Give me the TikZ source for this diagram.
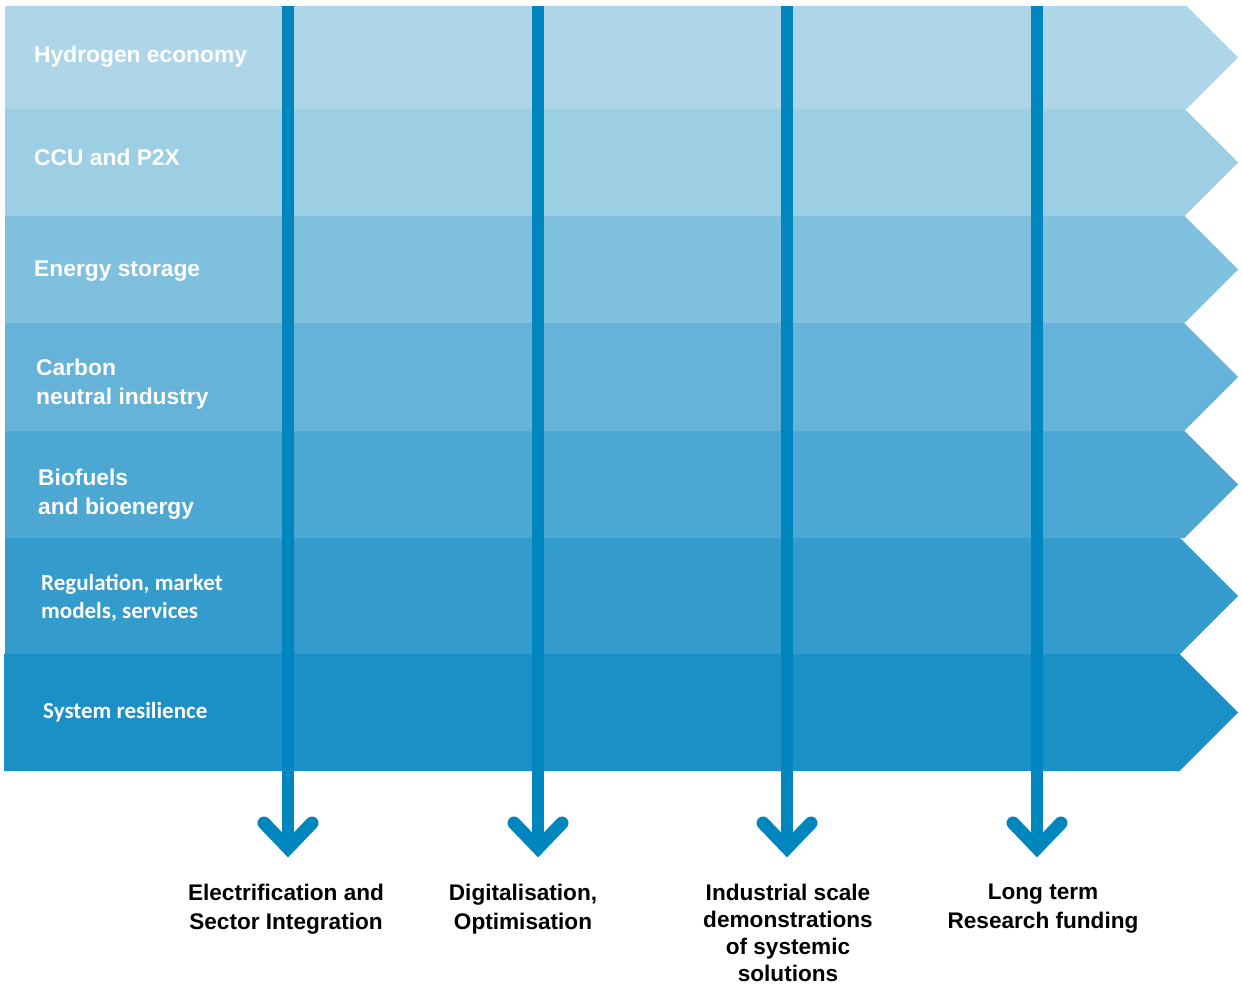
\documentclass[tikz,border=0pt]{standalone}
\usepackage{fontspec}
\setmainfont{Liberation Sans}
\newfontfamily\carl{Carlito}
\definecolor{bA}{HTML}{AED6E8}
\definecolor{bB}{HTML}{9CCFE4}
\definecolor{bC}{HTML}{80C0DF}
\definecolor{bD}{HTML}{66B3D9}
\definecolor{bE}{HTML}{4CA7D3}
\definecolor{bF}{HTML}{349CCC}
\definecolor{bG}{HTML}{1B90C7}
\definecolor{arr}{HTML}{0086BF}
\tikzset{
  band/.style={fill=#1, draw=none},
  bandlabel/.style={anchor=west, text=white, align=left, inner sep=0pt,
     font=\fontsize{22.8}{28.5}\selectfont\bfseries},
  bandlabelc/.style={anchor=west, text=white, align=left, inner sep=0pt,
     font=\fontsize{23}{28.5}\selectfont\carl\bfseries},
  shaft/.style={draw=arr, line width=12.5pt, line cap=butt},
  head/.style={draw=arr, line width=13pt, line cap=round, line join=miter},
  outlabel/.style={anchor=north, text=black, align=center, inner sep=0pt,
     font=\fontsize{22.6}{29}\selectfont\bfseries},
}
\begin{document}
\begin{tikzpicture}[x=1pt,y=-1pt]
\useasboundingbox (0,0) rectangle (1242,987);
% bands (chevrons)
\foreach \t/\b/\l/\c in {6/109/5/bA,109/216/5/bB,216/323/5/bC,323/431/5/bD,431/538/5/bE,538/654/5/bF,654/771/4/bG}{
  \pgfmathsetmacro{\h}{\b-\t}
  \pgfmathsetmacro{\xe}{1238-\h/2}
  \pgfmathsetmacro{\m}{(\t+\b)/2}
  \path[band=\c] (\l,\t) -- (\xe,\t) -- (1238,\m) -- (\xe,\b) -- (\l,\b) -- cycle;
}
% band labels
\node[bandlabel] (hyd) at (34,57) {Hydrogen economy};
\node[bandlabel] (ccu) at (34,157) {CCU and P2X};
\node[bandlabel] (sto) at (34,271) {Energy storage};
\node[bandlabel] (car) at (36,384) {Carbon\\neutral industry};
\node[bandlabel] (bio) at (38,494) {Biofuels\\and bioenergy};
\node[bandlabelc] (reg) at (41,598) {Regulation, market\\models, services};
\node[bandlabelc] (res) at (43,712) {System resilience};
% vertical arrows
\foreach \i/\x in {1/288,2/538,3/787,4/1037}{
  \coordinate (s\i) at (\x,6);
  \coordinate (e\i) at (\x,848);
  \draw[shaft] (s\i) -- (e\i);
  \draw[head] ([shift={(-24,-25)}]e\i) -- (e\i) -- ([shift={(24,-25)}]e\i);
}
% bottom labels
\node[outlabel] (l1) at (286,884) {Electrification and\\Sector Integration};
\node[outlabel] (l2) at (523,884) {Digitalisation,\\Optimisation};
\node[outlabel, font=\fontsize{22.6}{27}\selectfont\bfseries] (l3) at (788,884) {Industrial scale\\demonstrations\\of systemic\\solutions};
\node[outlabel] (l4) at (1043,884) {Long term\\Research funding};
\end{tikzpicture}
\end{document}
